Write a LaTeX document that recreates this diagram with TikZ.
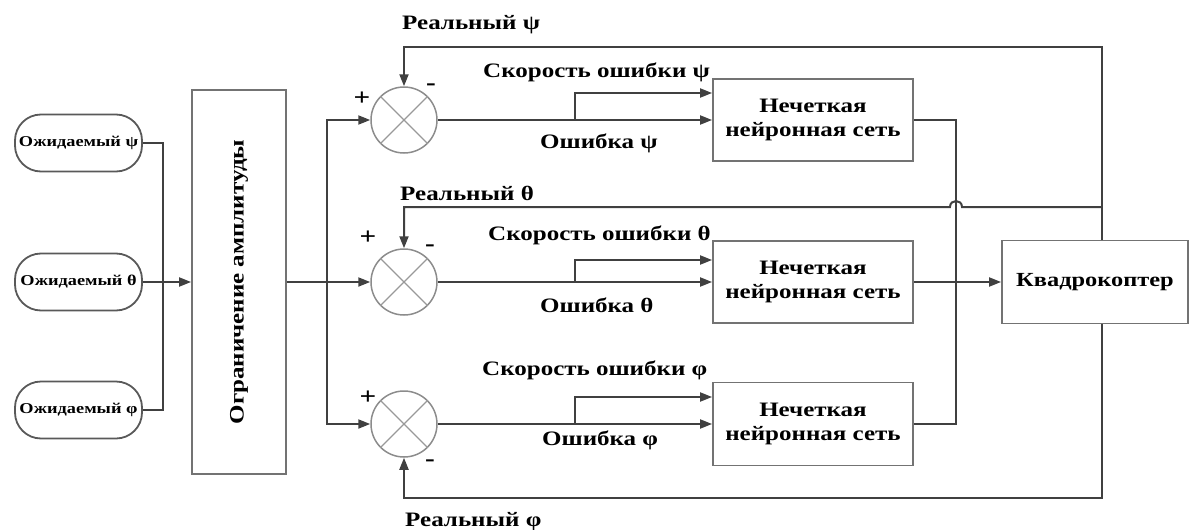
\documentclass[tikz,border=0pt]{standalone}
\usepackage{fontspec}
\setmainfont{Liberation Serif}[FakeStretch=1.22]
\usetikzlibrary{arrows.meta}
\begin{document}
\begin{tikzpicture}[x=1pt,y=-1pt,
  line/.style={draw=black!75, line width=2pt},
  arr/.style={line, -{Triangle[length=12pt,width=9pt]}},
  box/.style={draw=black!55, line width=1.8pt, fill=white, align=center, inner sep=0pt,
    font=\fontsize{20.5}{24}\selectfont\bfseries},
  oval/.style={draw=black!65, line width=1.8pt, rounded corners=26pt, minimum width=127pt,
    minimum height=57pt, font=\fontsize{15}{17}\selectfont\bfseries, inner sep=0pt},
  sum/.style={circle, draw=black!45, line width=1.5pt, minimum size=66pt, inner sep=0pt},
  cross/.style={draw=black!40, line width=1.1pt},
  lbl/.style={font=\fontsize{20.5}{24}\selectfont\bfseries, inner sep=0pt},
  sgn/.style={font=\fontsize{24}{26}\selectfont\bfseries, inner sep=0pt}]
\useasboundingbox (0,0) rectangle (1194,530);

% inputs
\node[oval] (e1) at (78.5,143) {Ожидаемый ψ};
\node[oval] (e2) at (78.5,282) {Ожидаемый θ};
\node[oval] (e3) at (78.5,410) {Ожидаемый φ};

% amplitude limiter
\node[box, minimum width=94pt, minimum height=384pt] (amp) at (239,282) {};
\node[lbl, rotate=90] (amptext) at (amp.center) {Ограничение амплитуды};

% summers
\node[sum] (s1) at (404,120) {};
\node[sum] (s2) at (404,282) {};
\node[sum] (s3) at (404,424) {};
\foreach \s in {s1,s2,s3}{
  \draw[cross] (\s.north east) -- (\s.south west) (\s.north west) -- (\s.south east);
}

% fuzzy neural networks
\node[box, minimum width=200pt, minimum height=82pt] (n1) at (813,120) {Нечеткая\\нейронная сеть};
\node[box, minimum width=200pt, minimum height=82pt] (n2) at (813,282) {Нечеткая\\нейронная сеть};
\node[box, minimum width=200pt, minimum height=83pt] (n3) at (813,424) {Нечеткая\\нейронная сеть};

% quadcopter
\node[box, minimum width=186pt, minimum height=83pt, font=\fontsize{20}{23}\selectfont\bfseries] (q) at (1095,282) {Квадрокоптер};

% input bus
\coordinate (bus) at (163,282);
\draw[line] (e1.east) -| (bus) |- (e3.east);
\draw[arr] (e2.east) -- (amp.west);

\coordinate (split) at (327,282);
\draw[line] (amp.east) -- (split);
\draw[arr] (split) |- (s1.west);
\draw[arr] (split) -- (s2.west);
\draw[arr] (split) |- (s3.west);

% error paths
\coordinate (k1) at (575,120);
\coordinate (k2) at (575,282);
\coordinate (k3) at (575,424);
\draw[arr] (s1.east) -- (n1.west);
\draw[arr] (k1) |- ([yshift=27pt]n1.west);
\draw[arr] (s2.east) -- (n2.west);
\draw[arr] (k2) |- ([yshift=22pt]n2.west);
\draw[arr] (s3.east) -- (n3.west);
\draw[arr] (k3) |- ([yshift=27pt]n3.west);

% NN outputs to quadcopter
\coordinate (m) at (956,282);
\draw[line] (n1.east) -| (m) |- (n3.east);
\draw[arr] (n2.east) -- (q.west);

% feedback
\coordinate (fb1) at (1102,47);
\coordinate (fb2) at (1102,207);
\coordinate (fb3) at (1102,498);
\coordinate (hopR) at (962,207);
\coordinate (hopL) at (950,207);
\draw[arr] (q.north -| fb1) -- (fb1) -| (s1.north);
\draw[arr] (fb2) -- (hopR) .. controls (962,199) and (950,199) .. (hopL) -| (s2.north);
\draw[arr] (q.south -| fb3) -- (fb3) -| (s3.south);

% labels
\node[lbl, anchor=west] (l1) at (402,25) {Реальный ψ};
\node[lbl, anchor=west] (l2) at (483,72) {Скорость ошибки ψ};
\node[lbl, anchor=west] (l3) at (540,143) {Ошибка ψ};
\node[lbl, anchor=west] (l4) at (400,193) {Реальный θ};
\node[lbl, anchor=west] (l5) at (488,235) {Скорость ошибки θ};
\node[lbl, anchor=west] (l6) at (540,305) {Ошибка θ};
\node[lbl, anchor=west] (l7) at (482,370) {Скорость ошибки φ};
\node[lbl, anchor=west] (l8) at (542,440) {Ошибка φ};
\node[lbl, anchor=west] (l9) at (405,522) {Реальный φ};

% signs
\node[sgn] (p1) at (362,99) {+};
\node[sgn] (m1) at (431,87) {-};
\node[sgn] (p2) at (368,238) {+};
\node[sgn] (m2) at (430,248) {-};
\node[sgn] (p3) at (368,398) {+};
\node[sgn] (m3) at (430,463) {-};
\end{tikzpicture}
\end{document}
